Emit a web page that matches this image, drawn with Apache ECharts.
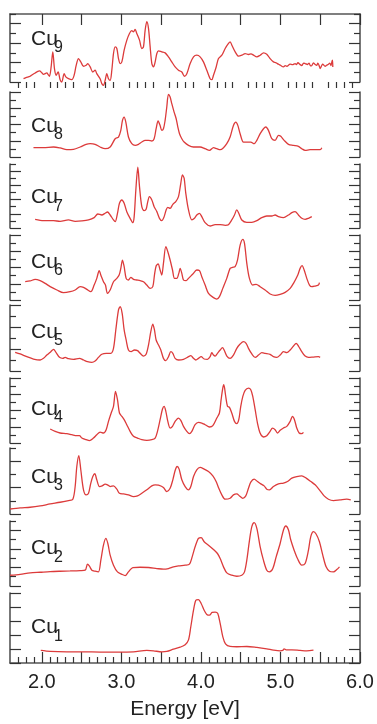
<!DOCTYPE html>
<html><head><meta charset="utf-8">
<script src="https://cdn.jsdelivr.net/npm/echarts@6/dist/echarts.min.js"></script>
<style>html,body{margin:0;padding:0;background:#fff}#c{width:377px;height:724px}</style>
</head><body><div id="c"></div>
<script>
// ---------- data ----------
const xRange = [1.6, 6.0];
const xTickLabels = [2.0, 3.0, 4.0, 5.0, 6.0];
const panelNames = ['9', '8', '7', '6', '5', '4', '3', '2', '1'];
const yTickCounts = [7, 8, 9, 8, 6, 8, 5, 7, 5];
const axisTitle = 'Energy [eV]';

const cu9 = [[1.770,0.34],[1.80,0.45],[1.853,0.59],[1.88,0.75],[1.916,0.93],[1.94,1.05],[1.971,1.14],[2.00,0.95],[2.021,0.79],[2.063,0.93],[2.080,0.75],[2.096,0.59],[2.117,1.55],[2.138,3.10],[2.159,1.38],[2.180,0.69],[2.205,1.03],[2.230,0.24],[2.251,0.0],[2.281,0.86],[2.302,0.52],[2.335,0.34],[2.377,0.24],[2.406,0.69],[2.432,1.72],[2.461,2.41],[2.490,2.07],[2.524,1.62],[2.557,1.72],[2.578,1.90],[2.608,1.55],[2.641,1.03],[2.670,1.21],[2.691,0.86],[2.733,0.34],[2.754,-0.17],[2.775,-0.34],[2.796,0.17],[2.817,0.86],[2.838,0.34],[2.859,0.17],[2.880,1.21],[2.901,2.93],[2.922,3.62],[2.943,3.45],[2.964,2.41],[2.985,1.90],[3.006,2.07],[3.035,3.28],[3.069,4.31],[3.102,5.00],[3.131,5.28],[3.152,5.17],[3.173,5.41],[3.194,5.00],[3.228,4.31],[3.257,3.45],[3.278,3.62],[3.299,5.34],[3.320,6.21],[3.341,5.52],[3.362,3.62],[3.383,1.90],[3.404,1.55],[3.425,2.07],[3.446,2.93],[3.467,3.21],[3.508,3.10],[3.550,3.00],[3.592,2.59],[3.634,2.07],[3.676,1.55],[3.718,1.21],[3.760,1.03],[3.793,0.59],[3.823,0.86],[3.865,1.90],[3.907,2.59],[3.949,2.76],[3.990,2.59],[4.032,2.07],[4.074,1.21],[4.116,0.34],[4.137,0.24],[4.158,0.69],[4.192,1.55],[4.221,2.41],[4.263,2.76],[4.305,3.45],[4.347,3.97],[4.368,4.14],[4.389,3.79],[4.431,3.10],[4.473,2.66],[4.515,2.76],[4.556,2.93],[4.598,2.83],[4.630,2.90],[4.661,2.76],[4.703,2.59],[4.745,2.76],[4.787,3.00],[4.828,2.86],[4.870,2.41],[4.912,2.07],[4.940,2.00],[4.975,1.83],[5.000,1.72],[5.038,1.55],[5.060,1.68],[5.080,1.62],[5.122,1.83],[5.150,1.78],[5.185,1.90],[5.200,1.80],[5.220,1.98],[5.247,1.79],[5.270,1.70],[5.290,1.95],[5.310,1.90],[5.340,1.80],[5.360,1.95],[5.373,1.72],[5.390,1.65],[5.415,1.97],[5.430,1.85],[5.457,1.72],[5.470,1.95],[5.490,1.60],[5.499,1.38],[5.510,1.55],[5.520,1.72],[5.530,1.85],[5.562,1.62],[5.580,1.72],[5.604,1.83],[5.620,1.95],[5.635,1.70],[5.646,2.07],[5.654,2.24],[5.658,1.55]];

const cu8 = [[1.895,1.15],[2.021,1.15],[2.147,1.23],[2.230,1.11],[2.314,0.90],[2.398,0.94],[2.482,1.23],[2.557,1.56],[2.608,1.64],[2.670,1.56],[2.733,1.23],[2.796,1.02],[2.859,1.23],[2.922,2.25],[2.964,2.46],[2.993,3.28],[3.014,4.51],[3.035,4.92],[3.056,4.30],[3.089,2.46],[3.131,1.64],[3.173,1.43],[3.215,1.56],[3.257,1.84],[3.299,2.05],[3.341,2.05],[3.383,1.97],[3.412,2.25],[3.437,3.48],[3.462,4.43],[3.487,3.89],[3.508,3.28],[3.529,3.48],[3.550,4.51],[3.571,6.15],[3.592,7.70],[3.613,7.38],[3.634,6.56],[3.663,5.53],[3.689,4.71],[3.710,3.69],[3.731,2.87],[3.760,2.25],[3.789,1.84],[3.844,1.43],[3.906,1.23],[3.990,1.23],[4.053,1.02],[4.108,0.82],[4.158,1.15],[4.200,1.02],[4.242,0.90],[4.284,1.15],[4.325,1.64],[4.367,2.46],[4.409,3.89],[4.439,4.30],[4.464,3.89],[4.493,2.87],[4.535,1.84],[4.585,1.84],[4.627,1.84],[4.669,1.64],[4.703,2.05],[4.745,2.87],[4.787,3.48],[4.816,3.69],[4.849,3.28],[4.891,2.25],[4.933,2.05],[4.975,2.66],[5.004,2.54],[5.046,2.05],[5.101,1.56],[5.163,1.43],[5.226,1.31],[5.268,1.02],[5.310,0.82],[5.373,0.90],[5.499,0.90],[5.520,1.15]];

const cu7 = [[1.916,1.22],[2.021,1.03],[2.147,1.03],[2.230,0.94],[2.335,1.13],[2.419,0.94],[2.503,0.99],[2.587,1.13],[2.658,1.46],[2.704,1.97],[2.754,1.83],[2.796,2.07],[2.825,2.25],[2.859,1.83],[2.901,1.13],[2.922,0.89],[2.951,2.07],[2.976,3.47],[3.006,3.94],[3.035,3.47],[3.068,2.30],[3.110,1.36],[3.144,0.75],[3.161,1.60],[3.182,5.35],[3.207,8.54],[3.228,5.82],[3.257,3.00],[3.286,2.44],[3.311,2.63],[3.332,3.71],[3.353,4.41],[3.383,3.94],[3.412,3.00],[3.446,2.30],[3.479,1.36],[3.508,1.03],[3.538,1.60],[3.563,2.54],[3.584,2.91],[3.613,2.77],[3.647,3.33],[3.684,3.71],[3.718,4.41],[3.747,6.29],[3.768,7.46],[3.789,7.00],[3.810,4.88],[3.844,2.54],[3.886,1.13],[3.919,1.36],[3.948,1.83],[3.982,2.07],[4.011,1.60],[4.053,0.75],[4.116,0.28],[4.179,0.47],[4.242,0.47],[4.305,0.38],[4.346,0.47],[4.388,1.13],[4.422,1.83],[4.451,2.54],[4.476,2.07],[4.514,1.13],[4.577,0.80],[4.640,0.80],[4.703,1.03],[4.765,1.46],[4.828,1.69],[4.891,1.69],[4.933,1.83],[4.975,1.60],[5.038,1.46],[5.101,1.83],[5.143,2.16],[5.184,2.30],[5.226,1.83],[5.268,1.36],[5.310,1.22],[5.352,1.36],[5.394,1.60]];

const cu6 = [[1.791,2.25],[1.853,2.34],[1.916,2.54],[1.979,2.38],[2.042,2.05],[2.105,1.64],[2.189,1.23],[2.272,0.90],[2.356,1.02],[2.419,1.23],[2.482,1.64],[2.524,1.56],[2.566,1.31],[2.616,1.02],[2.658,1.84],[2.691,2.66],[2.721,3.61],[2.746,2.95],[2.775,2.25],[2.800,1.84],[2.825,0.82],[2.859,1.23],[2.901,2.25],[2.943,2.66],[2.972,3.07],[2.993,3.89],[3.014,4.92],[3.035,4.10],[3.060,2.66],[3.089,2.46],[3.119,2.79],[3.152,2.54],[3.194,2.46],[3.236,2.38],[3.278,2.25],[3.320,1.84],[3.362,1.43],[3.395,1.64],[3.416,3.07],[3.437,4.18],[3.462,4.43],[3.487,3.69],[3.508,3.07],[3.529,4.51],[3.559,6.56],[3.584,5.94],[3.613,4.92],[3.643,3.69],[3.668,2.66],[3.697,2.66],[3.722,3.28],[3.739,3.89],[3.760,3.28],[3.781,2.46],[3.814,2.38],[3.844,2.66],[3.898,3.20],[3.948,3.69],[3.982,3.61],[4.011,2.87],[4.053,1.84],[4.095,0.82],[4.158,0.29],[4.200,0.12],[4.233,0.41],[4.275,1.43],[4.325,2.66],[4.367,3.89],[4.397,4.02],[4.430,4.10],[4.460,4.92],[4.493,6.76],[4.527,7.46],[4.548,6.97],[4.577,4.51],[4.610,2.66],[4.652,1.84],[4.694,1.93],[4.745,1.64],[4.807,1.23],[4.870,0.74],[4.933,0.57],[4.996,0.70],[5.059,0.94],[5.122,1.43],[5.164,2.05],[5.218,3.07],[5.247,3.89],[5.272,4.22],[5.298,3.69],[5.331,2.66],[5.365,1.84],[5.394,1.64],[5.436,1.72],[5.478,1.84],[5.490,2.13]];

const cu5 = [[1.665,1.70],[1.728,1.55],[1.811,1.30],[1.895,1.09],[1.979,1.00],[2.021,1.15],[2.063,1.45],[2.113,1.76],[2.147,1.97],[2.180,1.67],[2.222,1.24],[2.264,1.15],[2.293,1.24],[2.335,1.12],[2.398,1.06],[2.473,1.15],[2.524,1.00],[2.574,0.85],[2.629,0.79],[2.670,0.91],[2.712,1.24],[2.754,1.52],[2.809,1.61],[2.867,1.61],[2.901,2.06],[2.930,3.73],[2.964,5.55],[2.985,5.85],[3.010,5.24],[3.035,3.73],[3.060,2.82],[3.089,1.91],[3.123,1.76],[3.165,1.91],[3.203,1.85],[3.236,1.61],[3.278,1.36],[3.311,1.52],[3.341,2.36],[3.370,3.58],[3.395,4.27],[3.416,3.73],[3.437,2.82],[3.467,2.36],[3.496,1.91],[3.529,1.15],[3.559,0.94],[3.592,1.30],[3.622,1.76],[3.647,1.61],[3.676,1.15],[3.718,1.00],[3.781,1.06],[3.844,1.30],[3.873,1.39],[3.907,1.15],[3.936,1.00],[3.969,1.15],[4.003,1.30],[4.041,1.09],[4.082,1.06],[4.116,1.30],[4.137,1.67],[4.158,1.45],[4.179,1.36],[4.208,1.61],[4.242,1.91],[4.271,2.12],[4.292,1.91],[4.326,1.36],[4.367,1.15],[4.409,1.45],[4.451,2.06],[4.493,2.45],[4.535,2.67],[4.568,2.52],[4.598,2.06],[4.640,1.55],[4.682,1.24],[4.724,1.45],[4.766,1.67],[4.807,1.61],[4.870,1.52],[4.912,1.30],[4.954,1.24],[4.996,1.45],[5.038,1.76],[5.080,1.67],[5.122,1.91],[5.164,2.27],[5.197,2.52],[5.226,2.27],[5.268,1.76],[5.310,1.36],[5.352,1.24],[5.415,1.27],[5.478,1.30],[5.499,1.24]];

const cu4 = [[2.105,1.72],[2.168,1.43],[2.230,1.23],[2.314,1.15],[2.377,1.02],[2.440,0.90],[2.473,0.90],[2.503,0.61],[2.557,0.41],[2.599,0.29],[2.649,0.61],[2.691,1.02],[2.733,1.35],[2.775,1.23],[2.809,1.64],[2.838,2.66],[2.872,3.69],[2.901,4.51],[2.926,6.35],[2.951,5.33],[2.976,3.69],[3.006,3.28],[3.035,2.87],[3.068,2.25],[3.110,1.43],[3.152,0.82],[3.203,0.61],[3.257,0.41],[3.320,0.33],[3.383,0.41],[3.425,0.61],[3.454,1.43],[3.487,2.87],[3.517,4.18],[3.538,4.51],[3.559,3.89],[3.584,2.66],[3.613,1.84],[3.643,2.05],[3.676,2.66],[3.718,3.07],[3.747,2.79],[3.781,2.05],[3.823,1.43],[3.856,1.15],[3.886,1.43],[3.927,2.25],[3.969,2.54],[4.011,2.46],[4.053,2.25],[4.108,1.97],[4.150,2.13],[4.200,3.07],[4.233,3.69],[4.254,5.33],[4.275,6.76],[4.288,7.17],[4.309,5.94],[4.334,4.51],[4.359,4.39],[4.388,3.69],[4.422,2.66],[4.451,2.38],[4.476,2.87],[4.501,4.51],[4.527,5.74],[4.556,6.48],[4.598,6.76],[4.627,6.56],[4.652,5.74],[4.682,4.10],[4.711,2.46],[4.744,1.23],[4.786,0.74],[4.828,0.90],[4.870,1.43],[4.900,1.84],[4.933,1.64],[4.962,1.23],[4.996,1.56],[5.038,1.84],[5.080,2.05],[5.122,2.66],[5.151,3.28],[5.176,2.87],[5.205,1.84],[5.235,1.23],[5.268,1.15],[5.289,1.31]];

const cu3 = [[1.602,0.38],[1.728,0.46],[1.853,0.51],[1.979,0.61],[2.105,0.76],[2.230,0.89],[2.335,1.02],[2.390,1.12],[2.419,2.08],[2.440,3.60],[2.465,4.42],[2.490,3.35],[2.524,1.83],[2.557,1.45],[2.587,1.57],[2.616,2.34],[2.641,2.84],[2.666,3.05],[2.691,2.59],[2.725,2.08],[2.758,2.13],[2.796,2.26],[2.825,2.21],[2.859,2.08],[2.901,2.13],[2.943,1.88],[2.976,1.57],[3.027,1.52],[3.089,1.45],[3.152,1.32],[3.203,1.37],[3.257,1.57],[3.320,1.83],[3.383,2.13],[3.425,2.21],[3.467,2.18],[3.529,2.01],[3.571,1.70],[3.613,1.95],[3.647,2.59],[3.676,3.30],[3.701,3.60],[3.726,3.40],[3.760,2.59],[3.802,2.08],[3.844,1.83],[3.873,2.08],[3.907,2.84],[3.948,3.35],[3.990,3.53],[4.041,3.40],[4.095,3.22],[4.150,2.89],[4.191,2.46],[4.225,1.95],[4.263,1.45],[4.305,1.12],[4.367,1.19],[4.409,1.45],[4.451,1.52],[4.485,1.37],[4.527,1.19],[4.564,1.37],[4.598,1.95],[4.627,2.41],[4.669,2.64],[4.711,2.46],[4.753,2.28],[4.795,2.13],[4.828,1.88],[4.862,1.83],[4.912,2.08],[4.975,2.28],[5.038,2.34],[5.088,2.46],[5.143,2.72],[5.205,2.84],[5.268,2.89],[5.323,2.72],[5.382,2.46],[5.436,2.21],[5.490,1.83],[5.549,1.37],[5.603,1.12],[5.666,1.02],[5.750,1.07],[5.834,1.12],[5.884,1.07]];

const cu2 = [[1.602,1.16],[1.728,1.26],[1.853,1.41],[1.979,1.48],[2.105,1.55],[2.230,1.59],[2.356,1.62],[2.482,1.66],[2.545,1.70],[2.574,2.35],[2.599,2.13],[2.629,1.70],[2.670,1.59],[2.712,1.52],[2.742,2.78],[2.775,4.40],[2.805,5.13],[2.830,4.58],[2.859,3.32],[2.901,2.24],[2.951,1.52],[3.006,1.26],[3.048,1.12],[3.089,1.52],[3.144,1.99],[3.236,2.02],[3.341,1.99],[3.446,1.88],[3.529,1.81],[3.592,1.88],[3.655,2.06],[3.718,2.17],[3.802,2.24],[3.856,2.35],[3.890,3.14],[3.927,4.22],[3.969,5.13],[4.003,5.20],[4.041,4.77],[4.095,4.40],[4.158,3.94],[4.208,3.50],[4.242,2.96],[4.284,2.06],[4.326,1.41],[4.388,1.16],[4.451,1.05],[4.514,1.16],[4.548,1.52],[4.577,2.78],[4.611,4.95],[4.640,6.39],[4.669,6.82],[4.703,6.21],[4.745,4.22],[4.786,2.78],[4.828,1.70],[4.862,1.52],[4.904,1.88],[4.946,3.14],[4.996,4.58],[5.038,6.03],[5.067,6.46],[5.101,6.03],[5.130,4.95],[5.172,3.86],[5.214,2.96],[5.268,2.24],[5.310,2.42],[5.352,3.86],[5.381,5.31],[5.415,5.85],[5.448,5.60],[5.490,4.77],[5.532,3.32],[5.574,2.06],[5.616,1.59],[5.666,1.52],[5.708,1.77],[5.742,2.06]];

const cu1 = [[1.987,0.90],[2.105,0.83],[2.314,0.80],[2.524,0.80],[2.733,0.78],[2.943,0.78],[3.152,0.80],[3.320,0.90],[3.404,0.87],[3.508,0.80],[3.571,0.83],[3.655,0.99],[3.739,1.13],[3.802,1.30],[3.844,1.65],[3.873,2.59],[3.907,3.77],[3.936,4.48],[3.969,4.53],[4.003,4.25],[4.041,3.77],[4.074,3.47],[4.108,3.42],[4.141,3.61],[4.179,3.63],[4.212,3.54],[4.242,2.83],[4.275,1.89],[4.309,1.37],[4.367,1.18],[4.451,1.16],[4.577,1.18],[4.703,1.11],[4.828,1.01],[4.912,0.92],[4.996,0.87],[5.029,0.90],[5.046,1.01],[5.071,0.94],[5.143,0.94],[5.247,0.90],[5.331,0.87],[5.415,0.92]];

const spectra = [cu9, cu8, cu7, cu6, cu5, cu4, cu3, cu2, cu1];

// ---------- layout ----------
const panelTops = [14, 92, 164, 235, 305, 378, 448, 521, 593];
const panelHeights = [68, 65, 64, 65, 66, 65, 66, 65, 70];
const labelBaselines = [46.7, 133.3, 205, 269.3, 339.3, 416.7, 484.3, 556, 635];
const FONT = '"Liberation Sans", Arial, Helvetica, sans-serif';
const RED = '#dc3b3b';
const AXIS = '#555';
const TICK = '#333';
const LONG = 11, SHORT = 6;

function range(a, b, step) { const r = []; for (let v = a; v <= b + 1e-9; v += step) r.push(+v.toFixed(2)); return r; }
const xMajor = range(2.0, 6.0, 0.5);
const xMinor = range(1.7, 5.9, 0.1).filter(v => Math.abs(v * 2 - Math.round(v * 2)) > 1e-6);

const grids = [], xAxes = [], yAxes = [], series = [], graphics = [];
panelNames.forEach((name, i) => {
  grids.push({ left: 10, right: 17, top: panelTops[i], height: panelHeights[i] });
  xAxes.push({ gridIndex: i, type: 'value', min: xRange[0], max: xRange[1], show: false });
  const n = yTickCounts[i];
  const all = range(0, n, 1);
  const allLong = name === '1';
  const longV = allLong ? all : all.filter(v => v % 2 === 0);
  const shortV = allLong ? [] : all.filter(v => v % 2 === 1);
  const base = { gridIndex: i, type: 'value', min: 0, max: n, splitLine: { show: false }, axisLabel: { show: false } };
  ['left', 'right'].forEach(pos => {
    yAxes.push(Object.assign({}, base, { position: pos,
      axisLine: { show: true, onZero: false, lineStyle: { color: AXIS, width: 1.6 } },
      axisTick: { show: shortV.length > 0, inside: true, length: SHORT, customValues: shortV, lineStyle: { color: TICK, width: 1.2 } } }));
    yAxes.push(Object.assign({}, base, { position: pos,
      axisLine: { show: false },
      axisTick: { show: true, inside: true, length: LONG, customValues: longV, lineStyle: { color: TICK, width: 1.2 } } }));
  });
  series.push({ type: 'line', xAxisIndex: i, yAxisIndex: i * 4, data: spectra[i], showSymbol: false, smooth: 0.3,
    clip: false, lineStyle: { color: RED, width: 1.3 }, silent: true, animation: false });
  graphics.push({ type: 'text', x: 31, y: labelBaselines[i] - 7.3,
    style: { text: 'Cu', fontSize: 21, fontFamily: FONT, fill: '#222', align: 'left', verticalAlign: 'middle' } });
  graphics.push({ type: 'text', x: 54, y: labelBaselines[i] + 6.7 - 5.6,
    style: { text: name, fontSize: 16, fontFamily: FONT, fill: '#222', align: 'left', verticalAlign: 'middle' } });
});

// decorative x axes (bottom with labels, top ticks only)
[[8, 'bottom'], [0, 'top']].forEach(([g, pos]) => {
  const isBottom = pos === 'bottom';
  xAxes.push({ gridIndex: g, type: 'value', min: xRange[0], max: xRange[1], position: pos,
    axisLine: { show: true, onZero: false, lineStyle: { color: AXIS, width: 1.6 } },
    axisTick: { show: true, inside: true, length: LONG, customValues: xMajor, lineStyle: { color: TICK, width: 1.2 } },
    axisLabel: { show: isBottom, customValues: xTickLabels, formatter: v => v.toFixed(1), margin: 9,
      fontSize: 20, fontFamily: FONT, color: '#222' },
    splitLine: { show: false },
    name: isBottom ? axisTitle : '', nameLocation: 'middle', nameGap: 36,
    nameTextStyle: { fontSize: 21, fontFamily: FONT, color: '#222' } });
  xAxes.push({ gridIndex: g, type: 'value', min: xRange[0], max: xRange[1], position: pos,
    axisLine: { show: false },
    axisTick: { show: true, inside: true, length: SHORT, customValues: xMinor, lineStyle: { color: TICK, width: 1.2 } },
    axisLabel: { show: false }, splitLine: { show: false } });
});

const chart = echarts.init(document.getElementById('c'), null, { renderer: 'canvas' });
chart.setOption({ animation: false, backgroundColor: '#fff', grid: grids, xAxis: xAxes, yAxis: yAxes, series: series, graphic: graphics });
</script></body></html>
